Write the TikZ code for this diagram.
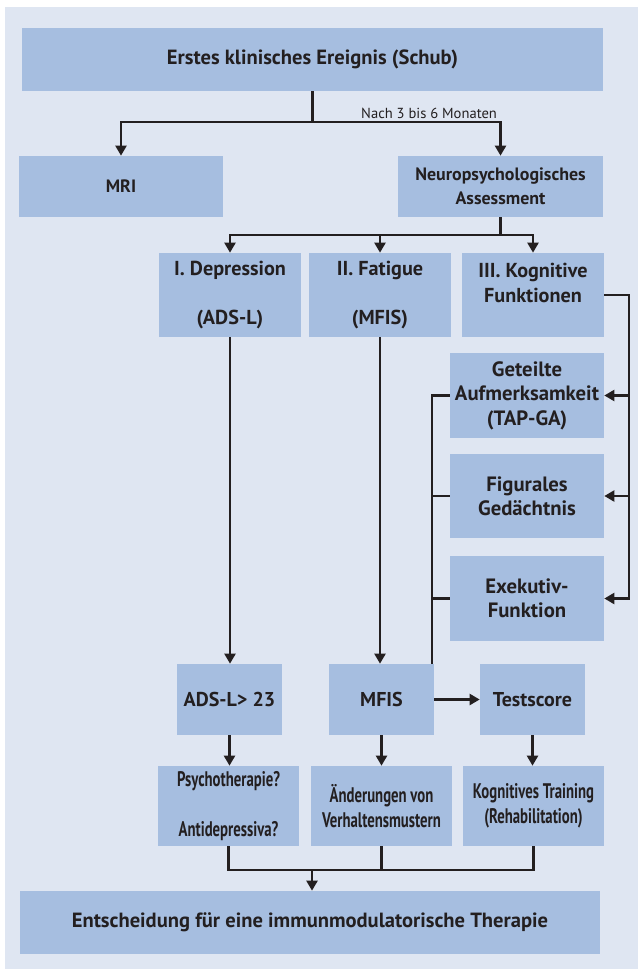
\documentclass[tikz,border=0pt]{standalone}
\usepackage{fontspec}
\setmainfont{PT Sans}
\newfontfamily\condfont[FakeStretch=0.7]{PT Sans}
\usepackage{xcolor}
\usepackage{tikz}
\usetikzlibrary{arrows.meta,positioning,calc}
\definecolor{panelbg}{RGB}{223,230,242}
\definecolor{boxblue}{RGB}{166,190,224}
\definecolor{inkdark}{RGB}{35,31,32}
\tikzset{
  flowbox/.style={fill=boxblue,inner sep=0pt,align=center,text=inkdark},
  widebox/.style={flowbox,minimum width=11.62cm,minimum height=1.26cm,
    font=\bfseries\fontsize{11.7}{13}\selectfont},
  halfbox/.style={flowbox,minimum width=4.1cm,minimum height=1.22cm,
    font=\bfseries\fontsize{10.2}{13.6}\selectfont},
  domainbox/.style={flowbox,minimum width=2.84cm,minimum height=1.68cm,
    font=\bfseries\fontsize{11.5}{13.9}\selectfont},
  testbox/.style={flowbox,minimum width=3.08cm,minimum height=1.7cm,
    font=\bfseries\fontsize{11.8}{13.9}\selectfont},
  scorebox/.style={flowbox,minimum width=2.1cm,minimum height=1.42cm,
    font=\bfseries\fontsize{11.4}{14}\selectfont},
  actionbox/.style={flowbox,minimum width=2.82cm,minimum height=1.6cm,
    font=\condfont\bfseries\fontsize{12}{14}\selectfont},
  flowline/.style={draw=inkdark,line width=1.3pt},
  flowarrow/.style={flowline,-{Triangle[length=2mm,width=2.2mm]}},
  steplabel/.style={font=\fontsize{8.3}{9}\selectfont,text=inkdark,inner sep=1.5pt}
}
\begin{document}
\begin{tikzpicture}[x=0.02cm,y=-0.02cm]
  \useasboundingbox (0,0) rectangle (638,969);
  \fill[panelbg] (5,7) rectangle (638,969);

  \node[widebox] (event) at (312.5,59.5) {Erstes klinisches Ereignis (Schub)};
  \node[halfbox] (mri) at (121,186.5) {MRI};
  \node[halfbox] (neuro) at (500.5,186.5) {Neuropsychologisches\\Assessment};

  \node[domainbox] (dep) at (230,295) {I. Depression\\[13.9pt](ADS-L)};
  \node[domainbox] (fat) at (380,295) {II. Fatigue\\[13.9pt](MFIS)};
  \node[domainbox] (kog) at (533,295) {III. Kognitive\\Funktionen\\\mbox{}};

  \node[testbox] (geteilt) at (527,395.5) {Geteilte\\Aufmerksamkeit\\(TAP-GA)};
  \node[testbox] (figural) at (527,496) {Figurales\\Gedächtnis};
  \node[testbox] (exek) at (527,598.5) {Exekutiv-\\Funktion};

  \node[scorebox] (adsl) at (229.5,699.5) {ADS-L> 23};
  \node[scorebox] (mfis) at (381.5,699.5) {MFIS};
  \node[scorebox] (test) at (532.5,699.5) {Testscore};

  \node[actionbox] (psych) at (228.5,806) {Psychotherapie?\\[14pt]Antidepressiva?};
  \node[actionbox] (aend) at (381.5,806) {Änderungen von\\Verhaltensmustern};
  \node[actionbox] (train) at (533.5,806) {Kognitives Training\\(Rehabilitation)};

  \node[widebox] (decision) at (310,922.5) {Entscheidung für eine immunmodulatorische Therapie};

  \coordinate (split) at (312.5,122);
  \draw[flowline] (event.south) -- (split);
  \draw[flowarrow] (split) -| (mri);
  \draw[flowarrow] (split) -| node[steplabel,pos=0.31,above] {Nach 3 bis 6 Monaten} (neuro);

  \coordinate (fork) at (500.5,235);
  \draw[flowline] (neuro.south) -- (fork);
  \draw[flowarrow] (fork) -| (dep);
  \draw[flowarrow] (fork) -| (fat);
  \draw[flowarrow] (fork) -| (kog);

  \coordinate (rbus) at (629,0);
  \draw[flowarrow] (kog.east) -- (kog.east -| rbus) -- (exek.east -| rbus) -- (exek.east);
  \draw[flowarrow] (geteilt.east -| rbus) -- (geteilt.east);
  \draw[flowarrow] (figural.east -| rbus) -- (figural.east);

  \coordinate (lbus) at (432,0);
  \draw[flowline] (geteilt.west) -- (geteilt.west -| lbus) -- (mfis.north -| lbus);
  \draw[flowline] (figural.west) -- (figural.west -| lbus);
  \draw[flowline] (exek.west) -- (exek.west -| lbus);

  \draw[flowarrow] (dep.south) -- (dep.south |- adsl.north);
  \draw[flowarrow] (fat.south) -- (fat.south |- mfis.north);
  \draw[flowarrow] (mfis) -- (test);
  \draw[flowarrow] (adsl.south) -- (adsl.south |- psych.north);
  \draw[flowarrow] (mfis) -- (aend);
  \draw[flowarrow] (test.south) -- (test.south |- train.north);

  \coordinate (merge) at (312,870);
  \draw[flowline] (psych.south) -- (psych.south |- merge) -- (train.south |- merge) -- (train.south);
  \draw[flowline] (aend.south) -- (aend.south |- merge);
  \draw[flowarrow] (merge) -- (merge |- decision.north);
\end{tikzpicture}
\end{document}
